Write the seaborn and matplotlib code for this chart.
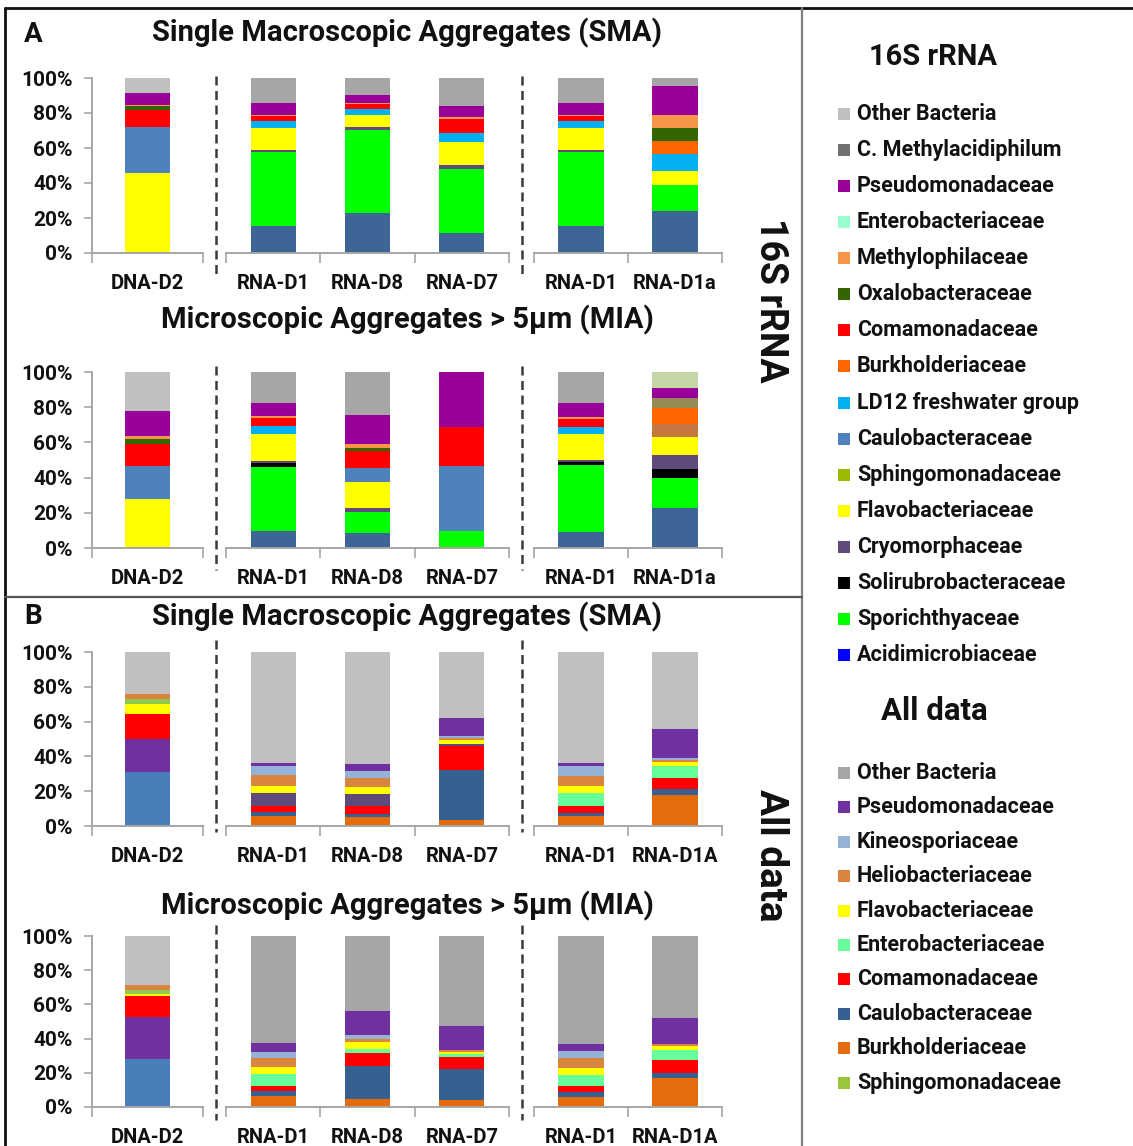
import numpy as np
import pandas as pd
import matplotlib
matplotlib.use("Agg")
import matplotlib.pyplot as plt
from matplotlib.lines import Line2D
from matplotlib.patches import Rectangle
import seaborn as sns

sns.set_style("white")
plt.rcParams["font.family"] = ["Roboto", "Noto Sans", "DejaVu Sans"]

# ---------------------------------------------------------------- data
# Relative abundance (%) per bar, taxon -> share, listed top to bottom.

# 16S rRNA, single macroscopic aggregates
sma16_dna_d2 = {"Other Bacteria": 8.4, "Pseudomonadaceae": 7.0, "Methylophilaceae": 0.6,
                "Oxalobacteraceae": 2.4, "Comamonadaceae": 9.5, "Caulobacteraceae": 26.1,
                "Flavobacteriaceae": 46.0}
sma16_rna_d1 = {"Other Bacteria": 14.1, "Pseudomonadaceae": 6.9, "Methylophilaceae": 0.5,
                "Comamonadaceae": 3.3, "LD12 freshwater group": 3.8, "Flavobacteriaceae": 12.4,
                "Cryomorphaceae": 1.3, "Sporichthyaceae": 42.3, "Acidimicrobiaceae": 15.4}
sma16_rna_d8 = {"Other Bacteria": 9.5, "Pseudomonadaceae": 4.6, "Methylophilaceae": 0.8,
                "Comamonadaceae": 2.6, "LD12 freshwater group": 3.8, "Flavobacteriaceae": 6.9,
                "Cryomorphaceae": 1.7, "Sporichthyaceae": 47.2, "Acidimicrobiaceae": 22.9}
sma16_rna_d7 = {"Other Bacteria": 16.0, "Pseudomonadaceae": 6.3, "Methylophilaceae": 1.0,
                "Comamonadaceae": 8.1, "LD12 freshwater group": 5.4, "Flavobacteriaceae": 12.7,
                "Cryomorphaceae": 2.3, "Sporichthyaceae": 36.8, "Acidimicrobiaceae": 11.4}
sma16_rna_d1_b = {"Other Bacteria": 14.1, "Pseudomonadaceae": 6.9, "Methylophilaceae": 0.5,
                  "Comamonadaceae": 3.3, "LD12 freshwater group": 3.8, "Flavobacteriaceae": 12.4,
                  "Cryomorphaceae": 1.3, "Sporichthyaceae": 42.3, "Acidimicrobiaceae": 15.4}
sma16_rna_d1a = {"Other Bacteria": 4.6, "Pseudomonadaceae": 16.4, "Methylophilaceae": 7.6,
                 "Oxalobacteraceae": 7.2, "Burkholderiaceae": 7.8, "LD12 freshwater group": 9.4,
                 "Flavobacteriaceae": 8.3, "Sporichthyaceae": 14.5, "Acidimicrobiaceae": 24.2}

# 16S rRNA, microscopic aggregates > 5 um
mia16_dna_d2 = {"Other Bacteria": 22.3, "Pseudomonadaceae": 14.3, "Methylophilaceae": 1.3,
                "Oxalobacteraceae": 2.9, "Comamonadaceae": 12.5, "Caulobacteraceae": 18.7,
                "Flavobacteriaceae": 28.0}
mia16_rna_d1 = {"Other Bacteria": 17.5, "Pseudomonadaceae": 7.6, "Methylophilaceae": 1.3,
                "Comamonadaceae": 4.4, "LD12 freshwater group": 4.4, "Flavobacteriaceae": 15.6,
                "Cryomorphaceae": 1.0, "Solirubrobacteraceae": 1.9, "Sporichthyaceae": 36.6,
                "Acidimicrobiaceae": 9.7}
mia16_rna_d8 = {"Other Bacteria": 24.2, "Pseudomonadaceae": 16.8, "Methylophilaceae": 2.2,
                "Oxalobacteraceae": 1.9, "Comamonadaceae": 9.2, "Caulobacteraceae": 8.4,
                "Flavobacteriaceae": 14.8, "Cryomorphaceae": 2.3, "Sporichthyaceae": 11.4,
                "Acidimicrobiaceae": 8.8}
mia16_rna_d7 = {"Pseudomonadaceae": 31.2, "Comamonadaceae": 22.3, "Caulobacteraceae": 36.6,
                "Sporichthyaceae": 9.9}
mia16_rna_d1_b = {"Other Bacteria": 17.5, "Pseudomonadaceae": 8.0, "Methylophilaceae": 1.2,
                  "Comamonadaceae": 4.8, "LD12 freshwater group": 3.8, "Flavobacteriaceae": 14.9,
                  "Cryomorphaceae": 1.0, "Solirubrobacteraceae": 1.5, "Sporichthyaceae": 38.2,
                  "Acidimicrobiaceae": 9.1}
mia16_rna_d1a = {"Unassigned (pale)": 9.0, "Pseudomonadaceae": 5.7, "Unassigned (olive)": 5.7,
                 "Burkholderiaceae": 8.9, "Unassigned (brown)": 7.7, "Flavobacteriaceae": 10.1,
                 "Cryomorphaceae": 7.8, "Solirubrobacteraceae": 5.5, "Sporichthyaceae": 17.1,
                 "Acidimicrobiaceae": 22.5}

# All data, single macroscopic aggregates
smaall_dna_d2 = {"Other Bacteria": 24.3, "Heliobacteriaceae": 2.9, "Sphingomonadaceae": 2.9,
                 "Flavobacteriaceae": 5.3, "Comamonadaceae": 14.4, "Pseudomonadaceae": 19.2,
                 "Caulobacteraceae": 31.0}
smaall_rna_d1 = {"Other Bacteria": 63.6, "Pseudomonadaceae": 2.1, "Kineosporiaceae": 5.2,
                 "Heliobacteriaceae": 6.1, "Flavobacteriaceae": 4.0, "Cryomorphaceae": 7.5,
                 "Comamonadaceae": 3.6, "Caulobacteraceae": 2.2, "Burkholderiaceae": 5.7}
smaall_rna_d8 = {"Other Bacteria": 64.6, "Pseudomonadaceae": 3.6, "Kineosporiaceae": 4.4,
                 "Heliobacteriaceae": 5.2, "Flavobacteriaceae": 3.8, "Cryomorphaceae": 7.1,
                 "Comamonadaceae": 4.4, "Caulobacteraceae": 1.5, "Burkholderiaceae": 5.4}
smaall_rna_d7 = {"Other Bacteria": 37.7, "Pseudomonadaceae": 10.8, "Kineosporiaceae": 0.9,
                 "Heliobacteriaceae": 1.4, "Flavobacteriaceae": 1.9, "Cryomorphaceae": 1.5,
                 "Comamonadaceae": 13.4, "Caulobacteraceae": 29.1, "Burkholderiaceae": 3.3}
smaall_rna_d1_b = {"Other Bacteria": 63.6, "Pseudomonadaceae": 1.9, "Kineosporiaceae": 5.8,
                   "Heliobacteriaceae": 5.7, "Flavobacteriaceae": 4.0, "Enterobacteriaceae": 7.7,
                   "Comamonadaceae": 3.6, "Caulobacteraceae": 2.0, "Burkholderiaceae": 5.7}
smaall_rna_d1a = {"Other Bacteria": 44.3, "Pseudomonadaceae": 16.6, "Kineosporiaceae": 1.1,
                  "Heliobacteriaceae": 1.5, "Flavobacteriaceae": 1.8, "Enterobacteriaceae": 7.2,
                  "Comamonadaceae": 6.5, "Caulobacteraceae": 3.4, "Burkholderiaceae": 17.6}

# All data, microscopic aggregates > 5 um
miaall_dna_d2 = {"Other Bacteria": 28.9, "Heliobacteriaceae": 2.6, "Sphingomonadaceae": 2.5,
                 "Flavobacteriaceae": 1.3, "Comamonadaceae": 12.1, "Pseudomonadaceae": 24.4,
                 "Caulobacteraceae": 28.2}
miaall_rna_d1 = {"Other Bacteria": 62.5, "Pseudomonadaceae": 5.1, "Kineosporiaceae": 4.0,
                 "Heliobacteriaceae": 5.1, "Flavobacteriaceae": 4.2, "Enterobacteriaceae": 6.6,
                 "Comamonadaceae": 3.0, "Caulobacteraceae": 3.2, "Burkholderiaceae": 6.3}
miaall_rna_d8 = {"Other Bacteria": 43.6, "Pseudomonadaceae": 14.2, "Kineosporiaceae": 2.2,
                 "Heliobacteriaceae": 2.1, "Flavobacteriaceae": 3.8, "Enterobacteriaceae": 2.8,
                 "Comamonadaceae": 7.1, "Caulobacteraceae": 19.3, "Burkholderiaceae": 4.9}
miaall_rna_d7 = {"Other Bacteria": 52.7, "Pseudomonadaceae": 14.0, "Heliobacteriaceae": 1.1,
                 "Flavobacteriaceae": 1.3, "Enterobacteriaceae": 1.9, "Comamonadaceae": 6.7,
                 "Caulobacteraceae": 18.3, "Burkholderiaceae": 4.0}
miaall_rna_d1_b = {"Other Bacteria": 63.1, "Pseudomonadaceae": 4.4, "Kineosporiaceae": 3.8,
                   "Heliobacteriaceae": 5.7, "Flavobacteriaceae": 4.3, "Enterobacteriaceae": 6.7,
                   "Comamonadaceae": 3.4, "Caulobacteraceae": 2.7, "Burkholderiaceae": 5.9}
miaall_rna_d1a = {"Other Bacteria": 47.8, "Pseudomonadaceae": 15.3, "Heliobacteriaceae": 1.3,
                  "Flavobacteriaceae": 2.5, "Enterobacteriaceae": 5.4, "Comamonadaceae": 7.6,
                  "Caulobacteraceae": 2.9, "Burkholderiaceae": 17.2}

# Sample labels
dna_labels = ["DNA-D2"]
rna_labels = ["RNA-D1", "RNA-D8", "RNA-D7"]
rep_labels_16s = ["RNA-D1", "RNA-D1a"]
rep_labels_all = ["RNA-D1", "RNA-D1A"]

# Stacking order (top to bottom)
rrna_order = ["Other Bacteria", "Unassigned (pale)", "C. Methylacidiphilum", "Pseudomonadaceae",
              "Unassigned (olive)", "Enterobacteriaceae", "Methylophilaceae", "Oxalobacteraceae",
              "Comamonadaceae", "Burkholderiaceae", "Unassigned (brown)", "LD12 freshwater group",
              "Caulobacteraceae", "Sphingomonadaceae", "Flavobacteriaceae", "Cryomorphaceae",
              "Solirubrobacteraceae", "Sporichthyaceae", "Acidimicrobiaceae"]
all_order = ["Other Bacteria", "Pseudomonadaceae", "Kineosporiaceae", "Heliobacteriaceae",
             "Flavobacteriaceae", "Enterobacteriaceae", "Cryomorphaceae", "Comamonadaceae",
             "Caulobacteraceae", "Burkholderiaceae", "Sphingomonadaceae"]
all_dna_order = ["Other Bacteria", "Heliobacteriaceae", "Sphingomonadaceae", "Flavobacteriaceae",
                 "Comamonadaceae", "Pseudomonadaceae", "Caulobacteraceae"]

# Legend entries
rrna_legend = ["Other Bacteria", "C. Methylacidiphilum", "Pseudomonadaceae", "Enterobacteriaceae",
               "Methylophilaceae", "Oxalobacteraceae", "Comamonadaceae", "Burkholderiaceae",
               "LD12 freshwater group", "Caulobacteraceae", "Sphingomonadaceae",
               "Flavobacteriaceae", "Cryomorphaceae", "Solirubrobacteraceae",
               "Sporichthyaceae", "Acidimicrobiaceae"]
all_legend = ["Other Bacteria", "Pseudomonadaceae", "Kineosporiaceae", "Heliobacteriaceae",
              "Flavobacteriaceae", "Enterobacteriaceae", "Comamonadaceae", "Caulobacteraceae",
              "Burkholderiaceae", "Sphingomonadaceae"]

# ---------------------------------------------------------------- colours
rrna_colors = {
    "Other Bacteria": "#c0c0c0", "C. Methylacidiphilum": "#707070",
    "Pseudomonadaceae": "#990099", "Enterobacteriaceae": "#99ffcc",
    "Methylophilaceae": "#f79646", "Oxalobacteraceae": "#336600",
    "Comamonadaceae": "#ff0000", "Burkholderiaceae": "#ff6600",
    "LD12 freshwater group": "#00b0f0", "Caulobacteraceae": "#4f81bd",
    "Sphingomonadaceae": "#9bbb00", "Flavobacteriaceae": "#ffff00",
    "Cryomorphaceae": "#604a7b", "Solirubrobacteraceae": "#000000",
    "Sporichthyaceae": "#00ff00", "Acidimicrobiaceae": "#0000ff",
    "Unassigned (pale)": "#c4d6a6", "Unassigned (olive)": "#948a54",
    "Unassigned (brown)": "#c5773f",
}
rrna_rna_colors = {**rrna_colors, "Other Bacteria": "#a6a6a6", "Acidimicrobiaceae": "#3d6596"}

all_colors = {
    "Other Bacteria": "#a6a6a6", "Pseudomonadaceae": "#7030a0",
    "Kineosporiaceae": "#95b3d7", "Heliobacteriaceae": "#d9843f",
    "Flavobacteriaceae": "#ffff00", "Enterobacteriaceae": "#66ff99",
    "Comamonadaceae": "#ff0000", "Caulobacteraceae": "#376092",
    "Burkholderiaceae": "#e46c0a", "Sphingomonadaceae": "#9bc53d",
    "Cryomorphaceae": "#604a7b",
}
all_light_colors = {**all_colors, "Other Bacteria": "#c0c0c0"}
all_dna_colors = {**all_colors, "Other Bacteria": "#c0c0c0", "Caulobacteraceae": "#4a7ebb",
                  "Sphingomonadaceae": "#92c850"}

# ---------------------------------------------------------------- layout
W, H = 1133, 1146
fig = plt.figure(figsize=(W / 100, H / 100), dpi=100)
fig.patch.set_facecolor("white")

AXIS_GREY = "#a6a6a6"
BOLD = dict(fontweight="bold", color="#111111")


def px_rect(left, top, right, bottom):
    return [left / W, 1 - bottom / H, (right - left) / W, (bottom - top) / H]


def draw_group(rect, labels, bars, order, palette, show_y, shrink):
    ax = fig.add_axes(px_rect(*rect))
    rows = [(i, taxon, share) for i, bar in enumerate(bars) for taxon, share in bar.items()]
    df = pd.DataFrame(rows, columns=["sample", "taxon", "share"])
    present = [t for t in order if t in set(df["taxon"])]
    sns.histplot(data=df, x="sample", weights="share", hue="taxon", hue_order=present,
                 palette=palette, multiple="stack", discrete=True, shrink=shrink,
                 alpha=1, linewidth=0, legend=False, ax=ax)
    n = len(bars)
    ax.set_xlim(-0.5, n - 0.5)
    ax.set_ylim(0, 100)
    ax.set_xlabel("")
    ax.set_ylabel("")
    ax.set_facecolor("none")
    ax.set_xticks(range(n))
    ax.set_xticklabels(labels, fontsize=14.5, **BOLD)
    ax.set_xticks(np.arange(-0.5, n), minor=True)
    ax.tick_params(axis="x", which="major", bottom=True, length=0, pad=15)
    ax.tick_params(axis="x", which="minor", bottom=True, length=7, width=1.2,
                   color=AXIS_GREY, direction="out")
    for side in ("top", "right"):
        ax.spines[side].set_visible(False)
    ax.spines["bottom"].set_color(AXIS_GREY)
    ax.spines["bottom"].set_linewidth(1.4)
    if show_y:
        ax.spines["left"].set_color(AXIS_GREY)
        ax.spines["left"].set_linewidth(1.4)
        ax.set_yticks(range(0, 101, 20))
        ax.set_yticklabels([f"{v}%" for v in range(0, 101, 20)], fontsize=15, **BOLD)
        ax.tick_params(axis="y", left=True, length=6, width=1.2, color=AXIS_GREY,
                       direction="out", pad=8)
    else:
        ax.spines["left"].set_visible(False)
        ax.set_yticks([])
    return ax


def draw_row(top, bottom, groups, palettes, orders, dash_span):
    spans = [(92, 203), (226, 509), (534, 722)]
    shrinks = [0.41, 0.48, 0.48]
    for k, ((left, right), (labels, bars)) in enumerate(zip(spans, groups)):
        draw_group((left, top, right, bottom), labels, bars, orders[k], palettes[k],
                   show_y=(k == 0), shrink=shrinks[k])
    for xd in (216, 522):
        fig.add_artist(Line2D([xd / W, xd / W], [1 - dash_span[0] / H, 1 - dash_span[1] / H],
                              color="#3a3a3a", lw=1.8, linestyle=(0, (3.6, 2.2))))


# Panel A, 16S rRNA
draw_row(78, 253,
         [(dna_labels, [sma16_dna_d2]),
          (rna_labels, [sma16_rna_d1, sma16_rna_d8, sma16_rna_d7]),
          (rep_labels_16s, [sma16_rna_d1_b, sma16_rna_d1a])],
         [rrna_colors, rrna_rna_colors, rrna_rna_colors],
         [rrna_order] * 3, (76, 274))
draw_row(372, 548,
         [(dna_labels, [mia16_dna_d2]),
          (rna_labels, [mia16_rna_d1, mia16_rna_d8, mia16_rna_d7]),
          (rep_labels_16s, [mia16_rna_d1_b, mia16_rna_d1a])],
         [rrna_colors, rrna_rna_colors, rrna_rna_colors],
         [rrna_order] * 3, (366, 570))

# Panel B, all data
draw_row(652, 826,
         [(dna_labels, [smaall_dna_d2]),
          (rna_labels, [smaall_rna_d1, smaall_rna_d8, smaall_rna_d7]),
          (rep_labels_all, [smaall_rna_d1_b, smaall_rna_d1a])],
         [all_dna_colors, all_light_colors, all_light_colors],
         [all_dna_order, all_order, all_order], (640, 832))
draw_row(936, 1107,
         [(dna_labels, [miaall_dna_d2]),
          (rna_labels, [miaall_rna_d1, miaall_rna_d8, miaall_rna_d7]),
          (rep_labels_all, [miaall_rna_d1_b, miaall_rna_d1a])],
         [all_dna_colors, all_colors, all_colors],
         [all_dna_order, all_order, all_order], (925, 1120))

# ---------------------------------------------------------------- titles
def ftext(x, y, s, size, **kw):
    fig.text(x / W, 1 - y / H, s, fontsize=size, ha=kw.pop("ha", "center"),
             va=kw.pop("va", "center"), **BOLD, **kw)


ftext(33, 35, "A", 20)
ftext(33, 617, "B", 20)
ftext(407, 33, "Single Macroscopic Aggregates (SMA)", 21)
ftext(407, 320, "Microscopic Aggregates > 5\u00b5m (MIA)", 21)
ftext(407, 617, "Single Macroscopic Aggregates (SMA)", 21)
ftext(407, 906, "Microscopic Aggregates > 5\u00b5m (MIA)", 21)
ftext(771, 300, "16S rRNA", 27, rotation=270)
ftext(771, 855, "All data", 28, rotation=270)

# ---------------------------------------------------------------- legends
def draw_legend(title, title_xy, entries, colors, y0, step, title_size):
    ftext(title_xy[0], title_xy[1], title, title_size)
    for i, name in enumerate(entries):
        yc = y0 + i * step
        fig.add_artist(Rectangle((838 / W, 1 - (yc + 6) / H), 12 / W, 12 / H,
                                 facecolor=colors[name], edgecolor="none",
                                 transform=fig.transFigure))
        ftext(857, yc, name, 15.5, ha="left")


draw_legend("16S rRNA", (933, 57), rrna_legend, rrna_colors, 114, 36.07, 21)
draw_legend("All data", (934, 711), all_legend, all_colors, 773, 34.4, 22.5)

# ---------------------------------------------------------------- frame
frame = [((5, 8), (1133, 8), "#111111", 2.0),
         ((5, 8), (5, 1146), "#111111", 2.0),
         ((802, 8), (802, 1146), "#7f7f7f", 1.6),
         ((5, 597), (802, 597), "#555555", 1.6)]
for (xa, ya), (xb, yb), col, lw in frame:
    fig.add_artist(Line2D([xa / W, xb / W], [1 - ya / H, 1 - yb / H], color=col, lw=lw))

fig.savefig("out.png", dpi=100, facecolor="white")
